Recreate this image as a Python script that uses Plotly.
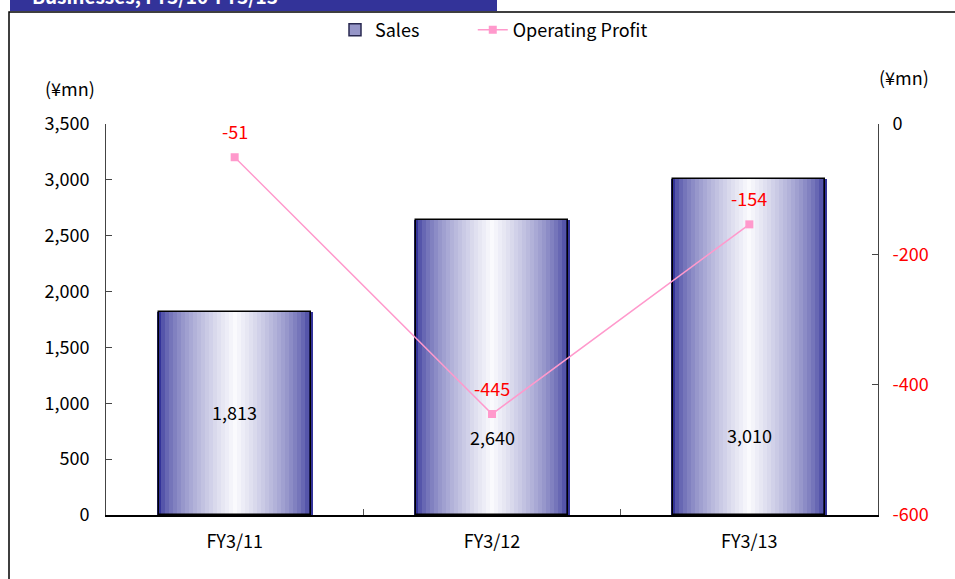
import plotly.graph_objects as go

categories = ["FY3/11", "FY3/12", "FY3/13"]
sales = [1813, 2640, 3010]
op_profit = [-51, -445, -154]
sales_text = ["1,813", "2,640", "3,010"]
profit_text = ["-51", "-445", "-154"]
left_ticks = [0, 500, 1000, 1500, 2000, 2500, 3000, 3500]
right_ticks = [-600, -400, -200, 0]

# layout-only constants
SALES_LABEL_Y = [922, 698, 716]
FONT = "Noto Sans CJK JP"
W, H = 955, 579
L, R, T, B = 106, 77, 124, 64
PW, PH = W - L - R, H - T - B


def px_x(x):
    return (x - L) / PW


def px_y(y):
    return (H - B - y) / PH


def mix(c1, c2, t):
    return "rgb(%d,%d,%d)" % tuple(round(a + (b - a) * t) for a, b in zip(c1, c2))


fig = go.Figure()

dark = (51, 51, 153)
light = (250, 250, 253)
n = 20
bw = 0.59
for i in range(n):
    t = i / (n - 1)
    w = bw * (1 - t) + 0.015
    col = mix(dark, light, t ** 0.6)
    fig.add_trace(go.Bar(
        x=categories, y=sales, width=w, marker=dict(color=col, line=dict(width=0)),
        showlegend=False, hoverinfo="skip", name="Sales"))

fig.add_trace(go.Bar(
    x=categories, y=sales, width=bw, name="Sales",
    marker=dict(color="rgba(0,0,0,0)", line=dict(color="black", width=1.5)),
    showlegend=False))

# legend entry for Sales
fig.add_trace(go.Bar(
    x=[None], y=[None], name="Sales" + "\u00a0" * 12,
    marker=dict(color="rgb(150,150,200)", line=dict(color="rgb(40,40,80)", width=1.5)),
    showlegend=True))

fig.add_trace(go.Scatter(
    x=categories, y=op_profit, yaxis="y2", name="Operating Profit",
    mode="lines+markers",
    line=dict(color="#FF99CC", width=1.5),
    marker=dict(symbol="square", size=8, color="#FF99CC"),
))

annotations = []
for c, yv, txt in zip(categories, SALES_LABEL_Y, sales_text):
    annotations.append(dict(x=c, y=yv, xref="x", yref="y", text=txt, showarrow=False,
                            font=dict(family=FONT, size=18, color="black")))
for c, v, txt in zip(categories, op_profit, profit_text):
    annotations.append(dict(x=c, y=v, xref="x", yref="y2", text=txt, showarrow=False,
                            yshift=26, font=dict(family=FONT, size=18, color="red")))
annotations.append(dict(x=px_x(70), y=px_y(88), xref="paper", yref="paper", text="(¥mn)",
                        xanchor="center", yanchor="middle",
                        showarrow=False, font=dict(family=FONT, size=18, color="black")))
annotations.append(dict(x=px_x(904), y=px_y(77), xref="paper", yref="paper", text="(¥mn)",
                        xanchor="center", yanchor="middle",
                        showarrow=False, font=dict(family=FONT, size=18, color="black")))
annotations.append(dict(x=px_x(30), y=px_y(11), xref="paper", yref="paper",
                        text="<b>Businesses, FY3/10-FY3/13</b>", showarrow=False,
                        xanchor="left", yanchor="bottom",
                        font=dict(family=FONT, size=19, color="white")))

shapes = [
    dict(type="rect", xref="paper", yref="paper", x0=px_x(9), x1=px_x(W + 20),
         y0=px_y(H + 20), y1=px_y(12), line=dict(color="black", width=1.5),
         fillcolor="rgba(0,0,0,0)", layer="below"),
    dict(type="rect", xref="paper", yref="paper", x0=px_x(10), x1=px_x(497),
         y0=px_y(11), y1=px_y(-20), line=dict(width=0), fillcolor="#333399", layer="below"),
]

right_text = ['<span style="color:red">%d</span>' % v if v != 0 else "0" for v in right_ticks]

fig.update_layout(
    width=W, height=H,
    margin=dict(l=L, r=R, t=T, b=B),
    paper_bgcolor="white", plot_bgcolor="white",
    barmode="overlay", bargap=0,
    font=dict(family=FONT, size=18, color="black"),
    showlegend=True,
    legend=dict(orientation="h", x=px_x(335), y=px_y(30), xanchor="left", yanchor="middle",
                font=dict(family=FONT, size=18, color="black"), bgcolor="rgba(0,0,0,0)",
                traceorder="normal"),
    xaxis=dict(showline=True, linecolor="black", linewidth=1.5, ticks="inside",
               tickson="boundaries", ticklen=6, tickcolor="#555", showgrid=False,
               ticklabelstandoff=10,
               tickfont=dict(family=FONT, size=18), mirror=False),
    yaxis=dict(range=[0, 3500], tickvals=left_ticks,
               ticktext=[f"{v:,}" for v in left_ticks], showline=True, linecolor="#444",
               linewidth=1, ticks="inside", ticklen=6, tickcolor="#444", showgrid=False,
               ticklabelstandoff=12,
               zeroline=False, tickfont=dict(family=FONT, size=18)),
    yaxis2=dict(range=[-600, 0], overlaying="y", side="right", tickvals=right_ticks,
                ticktext=right_text, showline=True, linecolor="#444", linewidth=1,
                ticks="inside", ticklen=6, tickcolor="#444", showgrid=False, zeroline=False,
                ticklabelstandoff=10,
                tickfont=dict(family=FONT, size=18)),
    annotations=annotations,
    shapes=shapes,
)

fig.write_html("out.html", config={"displayModeBar": False},
               post_script="document.body.style.margin='0';")
